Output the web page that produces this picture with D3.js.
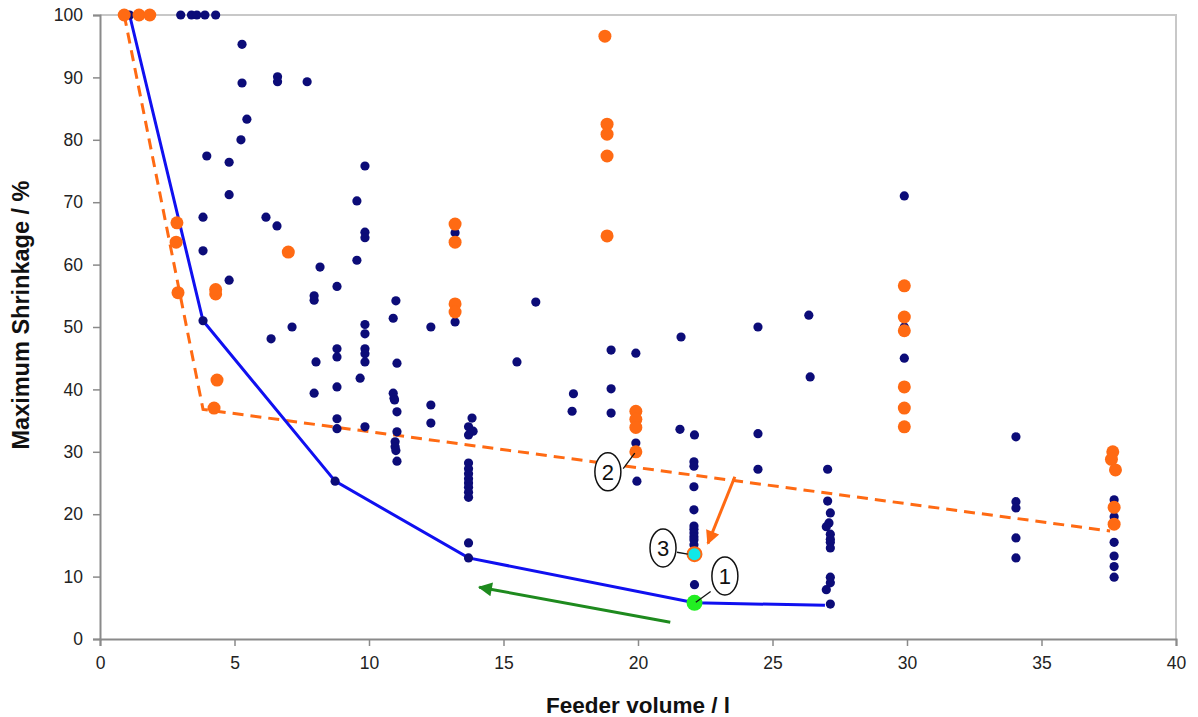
<!DOCTYPE html>
<html>
<head>
<meta charset="utf-8">
<script src="https://cdn.jsdelivr.net/npm/d3@7"></script>
<style>
  body { margin: 0; background: #fff; }
  svg { font-family: "Liberation Sans", Arial, sans-serif; }
</style>
</head>
<body>
<script>
// navy: all measured feeder configurations
const navyPoints = [
  [1.1, 100], [3.0, 100], [3.4, 100], [3.6, 100], [3.9, 100], [4.3, 100],
  [5.28, 95.3], [5.28, 89.1], [5.46, 83.3], [5.24, 80.0], [6.6, 90.1], [6.6, 89.3], [7.7, 89.3],
  [3.97, 77.4], [4.8, 76.4], [4.8, 71.2], [3.83, 67.6], [3.83, 62.2], [4.8, 57.5], [3.83, 51.0],
  [6.17, 67.6], [6.58, 66.2], [6.36, 48.1], [7.14, 50.0],
  [7.96, 54.3], [7.96, 55.0], [8.03, 44.4], [7.96, 39.4], [8.18, 59.6],
  [8.81, 56.5], [8.81, 46.5], [8.81, 45.2], [8.81, 40.4], [8.81, 35.3], [8.81, 33.7], [8.74, 25.3],
  [9.55, 70.2], [9.55, 60.7], [9.67, 41.8],
  [9.85, 75.8], [9.85, 65.2], [9.85, 64.3], [9.85, 50.4], [9.85, 48.9], [9.85, 46.5], [9.85, 45.7], [9.85, 44.4], [9.85, 34.0],
  [11.0, 54.2], [10.9, 51.4], [11.04, 44.2], [10.9, 39.4], [10.93, 38.6], [10.95, 38.3], [11.04, 36.4],
  [11.04, 33.2], [10.97, 31.6], [10.97, 30.8], [11.0, 30.2], [11.04, 28.5],
  [12.3, 50.0], [12.3, 37.5], [12.3, 34.6],
  [13.2, 65.1], [13.2, 50.8],
  [13.83, 35.4], [13.7, 34.0], [13.87, 33.3], [13.7, 32.7], [13.7, 28.2], [13.7, 27.3], [13.7, 26.5],
  [13.7, 25.7], [13.7, 25.0], [13.7, 24.3], [13.7, 23.5], [13.7, 22.7], [13.7, 15.4], [13.7, 13.0],
  [15.5, 44.4], [16.2, 54.0], [17.6, 39.3], [17.55, 36.5],
  [19.0, 46.3], [19.0, 40.1], [19.0, 36.2],
  [19.92, 45.8], [19.92, 31.4], [19.96, 25.3],
  [21.6, 48.4], [21.56, 33.6],
  [22.1, 32.7], [22.08, 28.4], [22.08, 27.7], [22.08, 24.4], [22.08, 20.7], [22.08, 18.1], [22.08, 17.6],
  [22.08, 17.0], [22.08, 16.4], [22.08, 15.9], [22.08, 15.1], [22.1, 8.7],
  [24.46, 50.0], [24.46, 32.9], [24.46, 27.2],
  [26.35, 51.9], [26.4, 42.0],
  [27.05, 27.2], [27.05, 22.1], [27.15, 20.2], [27.1, 18.6], [27.0, 18.0], [27.15, 16.8], [27.15, 16.0],
  [27.15, 15.5], [27.15, 14.6], [27.15, 9.9], [27.15, 9.0], [27.0, 7.9], [27.15, 5.6],
  [29.9, 71.0], [29.9, 50.0], [29.9, 45.0],
  [34.05, 32.4], [34.05, 22.0], [34.05, 21.0], [34.05, 16.2], [34.05, 13.0],
  [37.7, 22.3], [37.7, 21.0], [37.7, 19.6], [37.7, 15.5], [37.7, 13.3], [37.7, 11.6], [37.7, 9.9]
];

// orange: selected series
const orangePoints = [
  [0.9, 100], [1.45, 100], [1.85, 100],
  [2.86, 66.7], [2.83, 63.6], [2.9, 55.5], [4.3, 55.3], [4.3, 56.0], [7.0, 62.0], [4.35, 41.5], [4.24, 37.0],
  [13.2, 66.5], [13.2, 63.6], [13.2, 53.7], [13.2, 52.4],
  [18.77, 96.6], [18.85, 82.5], [18.85, 80.9], [18.85, 77.4], [18.85, 64.6],
  [19.92, 36.5], [19.92, 35.2], [19.92, 33.9], [19.92, 30.0],
  [29.9, 56.6], [29.9, 51.6], [29.9, 49.4], [29.9, 40.4], [29.9, 37.0], [29.9, 34.0],
  [37.65, 30.0], [37.6, 28.8], [37.75, 27.1], [37.7, 21.1], [37.7, 18.4]
];

const frontLine = [[1.1, 100], [3.83, 51.0], [8.74, 25.3], [13.7, 13.0], [22.1, 5.8], [26.95, 5.4]];
const orangeFront = [[0.9, 100], [3.83, 36.8], [37.55, 17.3]];

const greenPoint = [22.1, 5.8];
const cyanPoint = [22.1, 13.6];

const greenArrow = [[21.2, 2.7], [14.1, 8.3]];
const orangeArrow = [[23.6, 26.0], [22.6, 15.3]];

// callouts: label, ellipse centre, leader start, leader end
const callouts = [
  { label: '1', at: [23.23, 10.1], from: [22.7, 7.6], to: [22.15, 5.9] },
  { label: '2', at: [18.88, 26.8], from: [19.45, 27.3], to: [19.88, 29.8] },
  { label: '3', at: [20.93, 14.6], from: [21.45, 13.9], to: [21.85, 13.6] }
];

const xTicks = d3.range(0, 41, 5);
const yTicks = d3.range(0, 101, 10);

const width = 1198, height = 717;
const margin = { left: 100, right: 22, top: 15, bottom: 78 };

const svg = d3.select('body').append('svg')
  .attr('width', width)
  .attr('height', height);

const x = d3.scaleLinear().domain([0, 40]).range([margin.left, width - margin.right]);
const y = d3.scaleLinear().domain([0, 100]).range([height - margin.bottom, margin.top]);

// light frame on top and right
svg.append('path')
  .attr('d', `M${x(0)},${y(100)}H${x(40)}V${y(0)}`)
  .attr('fill', 'none')
  .attr('stroke', '#c8c8c8')
  .attr('stroke-width', 2);

const xAxis = svg.append('g')
  .attr('transform', `translate(0,${y(0)})`)
  .call(d3.axisBottom(x).tickValues(xTicks).tickSize(7).tickPadding(11));
const yAxis = svg.append('g')
  .attr('transform', `translate(${x(0)},0)`)
  .call(d3.axisLeft(y).tickValues(yTicks).tickSize(7).tickPadding(10));

[xAxis, yAxis].forEach(g => {
  g.select('.domain').attr('stroke', '#8a8a8a').attr('stroke-width', 2);
  g.selectAll('.tick line').attr('stroke', '#8a8a8a').attr('stroke-width', 1.5);
  g.selectAll('.tick text').attr('font-size', 17.5).attr('fill', '#222')
    .attr('font-family', '"Liberation Sans", Arial, sans-serif');
});

svg.append('text')
  .attr('x', (x(0) + x(40)) / 2)
  .attr('y', 713)
  .attr('text-anchor', 'middle')
  .attr('font-size', 22.5)
  .attr('font-weight', 'bold')
  .attr('fill', '#111')
  .text('Feeder volume / l');

svg.append('text')
  .attr('transform', `translate(29,${(y(0) + y(100)) / 2 - 12}) rotate(-90)`)
  .attr('text-anchor', 'middle')
  .attr('font-size', 23.5)
  .attr('font-weight', 'bold')
  .attr('fill', '#111')
  .text('Maximum Shrinkage / %');

const line = d3.line().x(d => x(d[0])).y(d => y(d[1]));

svg.append('path')
  .datum(orangeFront)
  .attr('d', line)
  .attr('fill', 'none')
  .attr('stroke', '#ff6a13')
  .attr('stroke-width', 3)
  .attr('stroke-dasharray', '11,7');

svg.append('path')
  .datum(frontLine)
  .attr('d', line)
  .attr('fill', 'none')
  .attr('stroke', '#1010f0')
  .attr('stroke-width', 3);

svg.append('g')
  .selectAll('circle')
  .data(navyPoints)
  .enter().append('circle')
  .attr('cx', d => x(d[0]))
  .attr('cy', d => y(d[1]))
  .attr('r', 4.6)
  .attr('fill', '#0c0c78');

svg.append('g')
  .selectAll('circle')
  .data(orangePoints)
  .enter().append('circle')
  .attr('cx', d => x(d[0]))
  .attr('cy', d => y(d[1]))
  .attr('r', 6.5)
  .attr('fill', '#ff6a13');

// arrowheads
const defs = svg.append('defs');
[['arrow-green', '#1e8a1e'], ['arrow-orange', '#ff6a13']].forEach(([id, col]) => {
  defs.append('marker')
    .attr('id', id)
    .attr('viewBox', '0 -5 10 10')
    .attr('refX', 9)
    .attr('refY', 0)
    .attr('orient', 'auto')
    .attr('markerUnits', 'userSpaceOnUse')
    .attr('markerWidth', 18)
    .attr('markerHeight', 14)
    .append('path')
    .attr('d', 'M0,-5L10,0L0,5Z')
    .attr('fill', col);
});

svg.append('path')
  .datum(greenArrow)
  .attr('d', line)
  .attr('stroke', '#1e8a1e')
  .attr('stroke-width', 3)
  .attr('marker-end', 'url(#arrow-green)');

svg.append('path')
  .datum(orangeArrow)
  .attr('d', line)
  .attr('stroke', '#ff6a13')
  .attr('stroke-width', 3)
  .attr('marker-end', 'url(#arrow-orange)');

svg.append('circle')
  .attr('cx', x(greenPoint[0]))
  .attr('cy', y(greenPoint[1]))
  .attr('r', 8)
  .attr('fill', '#22ee22');

svg.append('circle')
  .attr('cx', x(cyanPoint[0]))
  .attr('cy', y(cyanPoint[1]))
  .attr('r', 7)
  .attr('fill', '#10e8e8')
  .attr('stroke', '#ff6a13')
  .attr('stroke-width', 2);

// numbered callouts
const co = svg.append('g').selectAll('g')
  .data(callouts)
  .enter().append('g');

co.append('line')
  .attr('x1', d => x(d.from[0]))
  .attr('y1', d => y(d.from[1]))
  .attr('x2', d => x(d.to[0]))
  .attr('y2', d => y(d.to[1]))
  .attr('stroke', '#111')
  .attr('stroke-width', 1.3);

co.append('ellipse')
  .attr('cx', d => x(d.at[0]))
  .attr('cy', d => y(d.at[1]))
  .attr('rx', 13)
  .attr('ry', 19)
  .attr('fill', '#fff')
  .attr('stroke', '#111')
  .attr('stroke-width', 1.5);

co.append('text')
  .attr('x', d => x(d.at[0]))
  .attr('y', d => y(d.at[1]) + 8)
  .attr('text-anchor', 'middle')
  .attr('font-size', 22)
  .attr('fill', '#111')
  .text(d => d.label);
</script>
</body>
</html>
